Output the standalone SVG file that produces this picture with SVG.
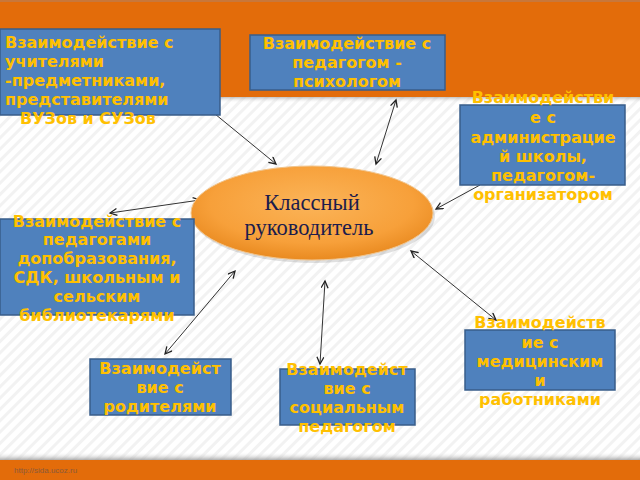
<svg xmlns="http://www.w3.org/2000/svg" width="640" height="480" viewBox="0 0 640 480">
  <defs>
    <pattern id="stripes" width="8" height="8" patternUnits="userSpaceOnUse" patternTransform="rotate(45)">
      <rect width="8" height="8" fill="#ffffff"/>
      <rect width="3" height="8" fill="#f2f2f2"/>
    </pattern>
    <radialGradient id="ellGrad" cx="50%" cy="40%" r="60%">
      <stop offset="0" stop-color="#fbb458"/>
      <stop offset="0.7" stop-color="#f7a03a"/>
      <stop offset="1" stop-color="#e98a20"/>
    </radialGradient>
    <linearGradient id="shadowTop" x1="0" y1="0" x2="0" y2="1">
      <stop offset="0" stop-color="#9a9a9a" stop-opacity="0.6"/>
      <stop offset="1" stop-color="#ffffff" stop-opacity="0"/>
    </linearGradient>
    <linearGradient id="shadowBot" x1="0" y1="1" x2="0" y2="0">
      <stop offset="0" stop-color="#8a8a8a" stop-opacity="0.7"/>
      <stop offset="1" stop-color="#ffffff" stop-opacity="0"/>
    </linearGradient>
    <marker id="arr" markerWidth="10" markerHeight="10" refX="8" refY="4" orient="auto-start-reverse" markerUnits="userSpaceOnUse">
      <path d="M1,0.5 L8,4 L1,7.5" fill="none" stroke="#222" stroke-width="1.3"/>
    </marker>
    <style>
      .box { fill: #4f81bd; stroke: #385d8a; stroke-width: 1.5; }
      .t { font-family: "DejaVu Sans", Verdana, sans-serif; font-weight: bold; font-size: 16px; fill: #ffc000; }
      .c { text-anchor: middle; }
      .conn { stroke: #333; stroke-width: 1; fill: none; }
      .main { font-family: "Liberation Serif", "Times New Roman", serif; font-size: 22.5px; fill: #1c1c4c; text-anchor: middle; }
    </style>
  </defs>

  <!-- background -->
  <rect x="0" y="0" width="640" height="480" fill="url(#stripes)"/>
  <rect x="0" y="97" width="640" height="6" fill="url(#shadowTop)"/>
  <rect x="0" y="0" width="640" height="97" fill="#e36c0a"/>
  <rect x="0" y="0" width="640" height="2" fill="#c8773a"/>
  <rect x="0" y="452" width="640" height="8" fill="url(#shadowBot)"/>
  <rect x="0" y="460" width="640" height="20" fill="#e36c0a"/>
  <text x="14" y="473" font-family="'Liberation Sans', Arial, sans-serif" font-size="8px" fill="#8a5a3a">http://sida.ucoz.ru</text>

  <!-- connectors -->
  <g id="connectors">
    <line class="conn" x1="215" y1="114" x2="276" y2="164" marker-end="url(#arr)"/>
    <line class="conn" x1="396" y1="100" x2="376" y2="164" marker-start="url(#arr)" marker-end="url(#arr)"/>
    <line class="conn" x1="480" y1="185" x2="436" y2="209" marker-end="url(#arr)"/>
    <line class="conn" x1="110" y1="213" x2="200" y2="200" marker-start="url(#arr)" marker-end="url(#arr)"/>
    <line class="conn" x1="235" y1="271" x2="165" y2="354" marker-start="url(#arr)" marker-end="url(#arr)"/>
    <line class="conn" x1="325" y1="281" x2="320" y2="364" marker-start="url(#arr)" marker-end="url(#arr)"/>
    <line class="conn" x1="411" y1="251" x2="496" y2="320" marker-start="url(#arr)" marker-end="url(#arr)"/>
  </g>

  <!-- central node -->
  <g id="center">
    <ellipse cx="314" cy="216" rx="121" ry="47" fill="#000" opacity="0.12"/>
    <ellipse cx="312" cy="213" rx="121" ry="47" fill="url(#ellGrad)" stroke="#f1c48c" stroke-width="1"/>
    <text class="main" x="312" y="210">Классный</text>
    <text class="main" x="309" y="235">руководитель</text>
  </g>

  <g id="teachers">
    <rect class="box" x="0" y="29" width="220" height="86"/>
    <text class="t" x="5" y="48">Взаимодействие с</text>
    <text class="t" x="5" y="67">учителями</text>
    <text class="t" x="5" y="86">-предметниками,</text>
    <text class="t" x="5" y="105">представителями</text>
    <text class="t" x="20" y="124">ВУЗов и СУЗов</text>
  </g>

  <g id="psychologist">
    <rect class="box" x="250" y="35" width="195" height="55"/>
    <text class="t c" x="347" y="49">Взаимодействие с</text>
    <text class="t c" x="347" y="68">педагогом -</text>
    <text class="t c" x="347" y="87">психологом</text>
  </g>

  <g id="administration">
    <rect class="box" x="460" y="105" width="165" height="80"/>
    <text class="t c" x="543" y="103">Взаимодействи</text>
    <text class="t c" x="543" y="123">е с</text>
    <text class="t c" x="543" y="143">администрацие</text>
    <text class="t c" x="543" y="162">й школы,</text>
    <text class="t c" x="543" y="181">педагогом-</text>
    <text class="t c" x="543" y="200">организатором</text>
  </g>

  <g id="librarians">
    <rect class="box" x="0" y="219" width="194" height="96"/>
    <text class="t c" x="97" y="227">Взаимодействие с</text>
    <text class="t c" x="97" y="245">педагогами</text>
    <text class="t c" x="97" y="264">допобразования,</text>
    <text class="t c" x="97" y="283">СДК, школьным и</text>
    <text class="t c" x="97" y="302">сельским</text>
    <text class="t c" x="97" y="321">библиотекарями</text>
  </g>

  <g id="parents">
    <rect class="box" x="90" y="359" width="141" height="56"/>
    <text class="t c" x="160" y="374">Взаимодейст</text>
    <text class="t c" x="160" y="393">вие с</text>
    <text class="t c" x="160" y="412">родителями</text>
  </g>

  <g id="social">
    <rect class="box" x="280" y="369" width="135" height="56"/>
    <text class="t c" x="347" y="375">Взаимодейст</text>
    <text class="t c" x="347" y="394">вие с</text>
    <text class="t c" x="347" y="413">социальным</text>
    <text class="t c" x="347" y="432">педагогом</text>
  </g>

  <g id="medical">
    <rect class="box" x="465" y="330" width="150" height="60"/>
    <text class="t c" x="540" y="328">Взаимодейств</text>
    <text class="t c" x="540" y="348">ие с</text>
    <text class="t c" x="540" y="367">медицинским</text>
    <text class="t c" x="540" y="386">и</text>
    <text class="t c" x="540" y="405">работниками</text>
  </g>
</svg>
